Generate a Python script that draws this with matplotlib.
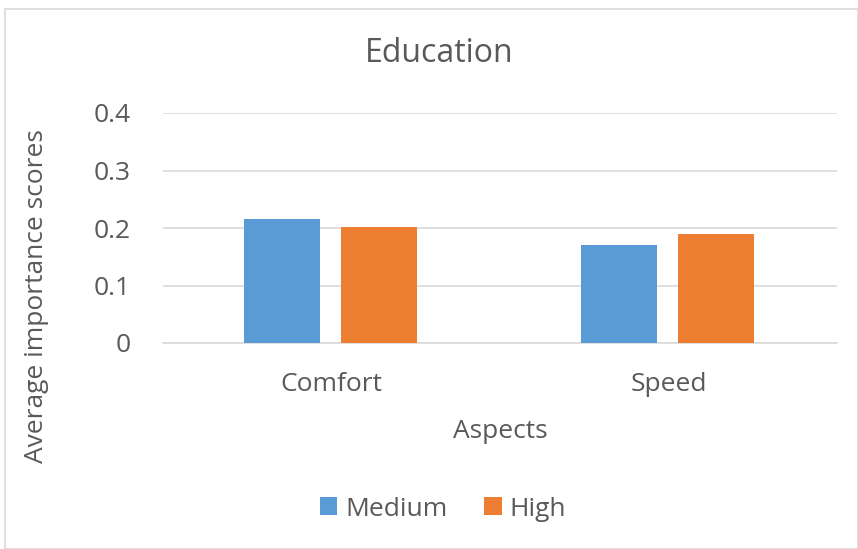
import numpy as np
import matplotlib.pyplot as plt
from matplotlib.patches import Rectangle

categories = ['Comfort', 'Speed']
medium = [0.215, 0.171]
high = [0.202, 0.190]
series_names = ['Medium', 'High']
yticks = [0, 0.1, 0.2, 0.3, 0.4]

plt.rcParams['font.family'] = ['Open Sans', 'DejaVu Sans']
text_color = '#595959'

fig = plt.figure(figsize=(8.58, 5.49), dpi=100)
W, H = 858, 549
ax = fig.add_axes([163 / W, 1 - 343 / H, (837 - 163) / W, (343 - 113) / H])

x = np.arange(len(categories))
width = 0.226
ax.bar(x - 0.148, medium, width, color='#5b9bd5', label=series_names[0], zorder=3)
ax.bar(x + 0.140, high, width, color='#ed7d31', label=series_names[1], zorder=3)

ax.set_xlim(-0.5, 1.5)
ax.set_ylim(0, 0.4)
ax.set_yticks(yticks)
ax.set_yticklabels(['0', '0.1', '0.2', '0.3', '0.4'])
ax.set_xticks(x)
ax.set_xticklabels(categories)
ax.grid(axis='y', color='#d9d9d9', linewidth=1.2, zorder=0)
for s in ['top', 'right', 'left']:
    ax.spines[s].set_visible(False)
ax.spines['bottom'].set_color('#d9d9d9')
ax.spines['bottom'].set_linewidth(1.2)
ax.tick_params(axis='both', length=0, labelsize=19, colors=text_color)
ax.tick_params(axis='x', pad=21)
ax.tick_params(axis='y', pad=23)

fig.text(439 / W, 1 - 54 / H, 'Education', ha='center', va='center', fontsize=23, color=text_color)
fig.text(500 / W, 1 - 432 / H, 'Aspects', ha='center', va='center', fontsize=19, color=text_color)
fig.text(37 / W, 1 - 296 / H, 'Average importance scores', ha='center', va='center',
         rotation=90, fontsize=19, color=text_color)

fig.legend(loc='center', bbox_to_anchor=(443 / W, 1 - 509 / H), ncol=2, frameon=False,
           fontsize=19, handlelength=0.65, handleheight=0.65, columnspacing=1.4,
           handletextpad=0.3, labelcolor=text_color)

fig.patches.append(Rectangle((5 / W, 0), (W - 5) / W, (H - 9) / H, transform=fig.transFigure,
                             fill=False, edgecolor='#d9d9d9', linewidth=1.2))

fig.savefig('out.png', dpi=100)
